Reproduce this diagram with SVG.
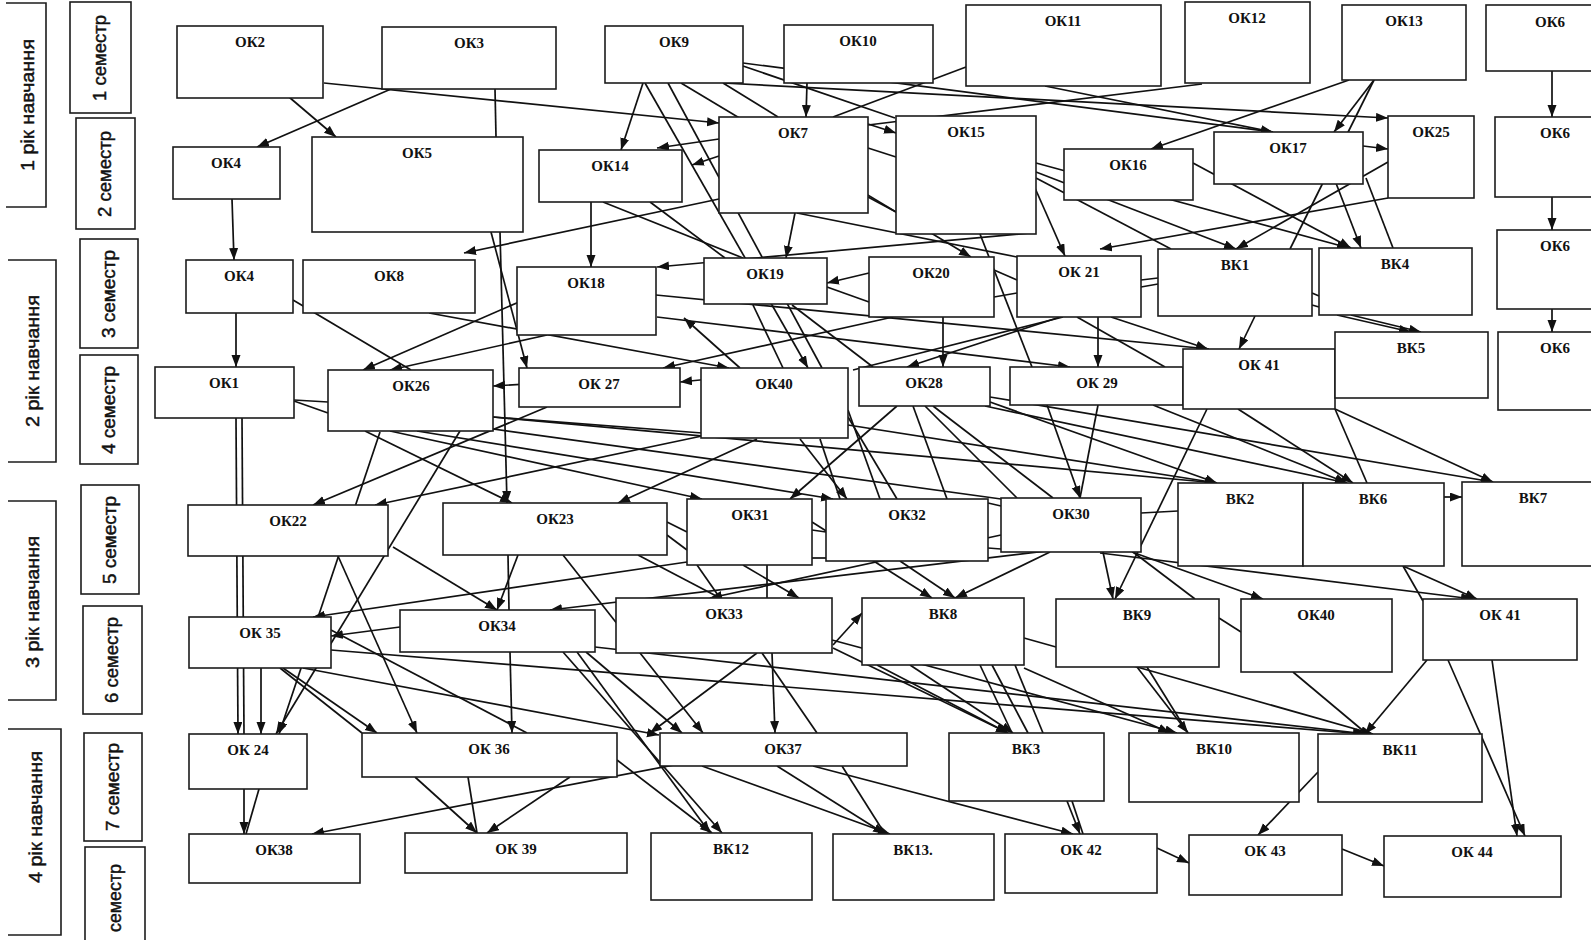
<svg xmlns="http://www.w3.org/2000/svg" width="1591" height="940" viewBox="0 0 1591 940">
<style>
.bg{fill:#fff}
.box{fill:#fff;stroke:#1c1c1c;stroke-width:1.6}
.frame{fill:none;stroke:#1c1c1c;stroke-width:1.6}
.lbl{font-family:"Liberation Serif","Times New Roman",serif;font-weight:bold;font-size:15px;text-anchor:middle;fill:#111}
.side{font-family:"Liberation Sans","Arial",sans-serif;font-size:18px;text-anchor:middle;fill:#111;stroke:#111;stroke-width:0.45}
.c path{fill:none;stroke:#111;stroke-width:1.7}
.c path.a{marker-end:url(#ah)}
</style>
<defs>
<marker id="ah" markerUnits="userSpaceOnUse" markerWidth="13" markerHeight="10" refX="12" refY="4.5" orient="auto">
<path d="M0,0 L12,4.5 L0,9 Z" fill="#111"/>
</marker>
</defs>
<rect class="bg" x="0" y="0" width="1591" height="940"/>

<g id="side-labels">
<polyline class="frame" points="6,3 46,3 46,207 6,207"/>
<text class="side" font-size="19" transform="translate(34,105) rotate(-90)" textLength="132" lengthAdjust="spacingAndGlyphs">1 рік навчання</text>
<rect class="frame" x="70" y="2" width="61" height="111"/>
<text class="side" transform="translate(106,58) rotate(-90)" textLength="86" lengthAdjust="spacingAndGlyphs">1 семестр</text>
<rect class="frame" x="76" y="118" width="59" height="111"/>
<text class="side" transform="translate(111,174) rotate(-90)" textLength="86" lengthAdjust="spacingAndGlyphs">2 семестр</text>
<polyline class="frame" points="8,260 56,260 56,462 8,462"/>
<text class="side" font-size="19" transform="translate(39,361) rotate(-90)" textLength="132" lengthAdjust="spacingAndGlyphs">2  рік навчання</text>
<rect class="frame" x="80" y="239" width="58" height="109"/>
<text class="side" transform="translate(115,294) rotate(-90)" textLength="88" lengthAdjust="spacingAndGlyphs">3 семестр</text>
<rect class="frame" x="80" y="355" width="58" height="109"/>
<text class="side" transform="translate(115,410) rotate(-90)" textLength="88" lengthAdjust="spacingAndGlyphs">4 семестр</text>
<polyline class="frame" points="8,501 56,501 56,700 8,700"/>
<text class="side" font-size="19" transform="translate(39,602) rotate(-90)" textLength="132" lengthAdjust="spacingAndGlyphs">3  рік навчання</text>
<rect class="frame" x="81" y="485" width="58" height="109"/>
<text class="side" transform="translate(116,540) rotate(-90)" textLength="88" lengthAdjust="spacingAndGlyphs">5 семестр</text>
<rect class="frame" x="83" y="606" width="59" height="108"/>
<text class="side" transform="translate(118,660) rotate(-90)" textLength="86" lengthAdjust="spacingAndGlyphs">6 семестр</text>
<polyline class="frame" points="8,729 61,729 61,935 8,935"/>
<text class="side" font-size="19" transform="translate(42,817) rotate(-90)" textLength="132" lengthAdjust="spacingAndGlyphs">4  рік навчання</text>
<rect class="frame" x="84" y="733" width="58" height="108"/>
<text class="side" transform="translate(119,787) rotate(-90)" textLength="88" lengthAdjust="spacingAndGlyphs">7 семестр</text>
<rect class="frame" x="85" y="847" width="60" height="110"/>
<text class="side" transform="translate(121,898) rotate(-90)" textLength="68" lengthAdjust="spacingAndGlyphs">семестр</text>
</g>

<g id="connectors" class="c">
<path class="a" d="M289,97 L336,137"/>
<path class="a" d="M391,89 L257,147"/>
<path class="a" d="M324,83 L719,123"/>
<path d="M495,89 L496,137"/>
<path class="a" d="M232,199 L234,260"/>
<path class="a" d="M236,313 L236,367"/>
<path class="a" d="M643,83 L621,150"/>
<path class="a" d="M645,83 L808,368"/>
<path d="M668,83 L822,368"/>
<path class="a" d="M681,83 L971,257"/>
<path d="M743,66 L895,118"/>
<path class="a" d="M868,124 L896,133"/>
<path class="a" d="M743,63 L1273,132"/>
<path class="a" d="M723,83 L1388,118"/>
<path class="a" d="M807,83 L806,117"/>
<path d="M966,67 L833,117"/>
<path d="M1202,84 L868,125"/>
<path class="a" d="M1045,86 L1273,132"/>
<path class="a" d="M1349,80 L1151,149"/>
<path class="a" d="M1374,80 L1334,132"/>
<path d="M1374,80 L1290,249"/>
<path class="a" d="M1363,146 L1388,149"/>
<path class="a" d="M1552,71 L1552,117"/>
<path class="a" d="M1552,197 L1552,230"/>
<path class="a" d="M1552,309 L1552,332"/>
<path class="a" d="M719,139 L657,148"/>
<path class="a" d="M719,156 L692,165"/>
<path class="a" d="M591,202 L591,267"/>
<path class="a" d="M719,199 L464,253"/>
<path class="a" d="M795,213 L786,258"/>
<path class="a" d="M1030,233 L657,267"/>
<path class="a" d="M869,273 L827,283"/>
<path d="M603,202 L743,258"/>
<path d="M650,202 L725,258"/>
<path d="M723,83 L778,117"/>
<path d="M868,148 L896,157"/>
<path d="M868,197 L896,212"/>
<path d="M797,213 L1017,257"/>
<path d="M980,234 L1032,367"/>
<path class="a" d="M1035,188 L1065,256"/>
<path class="a" d="M1388,198 L1100,249"/>
<path class="a" d="M1036,172 L1236,249"/>
<path d="M1036,178 L1171,249"/>
<path class="a" d="M1036,163 L1349,248"/>
<path class="a" d="M1193,163 L1351,248"/>
<path class="a" d="M1388,162 L1236,249"/>
<path class="a" d="M1334,178 L1361,248"/>
<path d="M1366,178 L1393,248"/>
<path d="M1141,280 L1158,278"/>
<path d="M1141,287 L1158,284"/>
<path d="M1312,293 L1319,296"/>
<path d="M1312,305 L1319,307"/>
<path class="a" d="M1255,316 L1239,349"/>
<path class="a" d="M1337,315 L1411,332"/>
<path class="a" d="M1351,315 L1421,332"/>
<path class="a" d="M1098,317 L1098,367"/>
<path class="a" d="M1111,317 L1208,349"/>
<path d="M1077,317 L1165,367"/>
<path class="a" d="M943,317 L943,367"/>
<path class="a" d="M1060,317 L907,367"/>
<path d="M994,270 L1017,280"/>
<path d="M994,297 L1017,293"/>
<path d="M827,287 L869,302"/>
<path d="M753,305 L783,368"/>
<path d="M792,305 L873,367"/>
<path class="a" d="M429,313 L729,368"/>
<path d="M293,300 L411,370"/>
<path class="a" d="M519,302 L363,370"/>
<path class="a" d="M547,335 L390,370"/>
<path class="a" d="M491,232 L527,368"/>
<path class="a" d="M500,232 L507,503"/>
<path class="a" d="M656,295 L1209,349"/>
<path class="a" d="M657,317 L1070,367"/>
<path class="a" d="M740,368 L684,318"/>
<path class="a" d="M893,317 L663,368"/>
<path class="a" d="M720,378 L680,382"/>
<path class="a" d="M560,382 L493,386"/>
<path d="M1063,317 L853,370"/>
<path class="a" d="M236,418 L238,734"/>
<path d="M242,418 L244,734"/>
<path d="M294,400 L328,402"/>
<path d="M294,401 L328,413"/>
<path class="a" d="M365,431 L512,503"/>
<path class="a" d="M380,432 L279,734"/>
<path class="a" d="M460,431 L276,734"/>
<path class="a" d="M390,431 L702,499"/>
<path class="a" d="M417,431 L833,499"/>
<path d="M493,417 L702,433"/>
<path class="a" d="M493,417 L1217,483"/>
<path d="M486,428 L1001,499"/>
<path class="a" d="M547,407 L313,505"/>
<path class="a" d="M702,436 L375,505"/>
<path class="a" d="M757,439 L618,503"/>
<path class="a" d="M800,439 L847,499"/>
<path d="M820,439 L840,499"/>
<path class="a" d="M897,406 L790,499"/>
<path d="M913,406 L947,499"/>
<path d="M925,406 L1017,498"/>
<path d="M933,406 L1053,498"/>
<path d="M848,410 L880,499"/>
<path d="M848,417 L897,499"/>
<path class="a" d="M990,402 L1217,483"/>
<path class="a" d="M985,406 L1347,483"/>
<path class="a" d="M990,397 L1493,482"/>
<path class="a" d="M1047,405 L1080,498"/>
<path d="M1098,405 L1080,498"/>
<path class="a" d="M1207,409 L1115,599"/>
<path class="a" d="M1238,409 L1353,483"/>
<path d="M1335,409 L1367,483"/>
<path class="a" d="M1335,409 L1493,482"/>
<path class="a" d="M1444,497 L1462,497"/>
<path d="M1141,513 L1178,511"/>
<path class="a" d="M1153,405 L1347,483"/>
<path class="a" d="M848,425 L1217,483"/>
<path class="a" d="M338,556 L417,733"/>
<path class="a" d="M393,547 L497,610"/>
<path class="a" d="M518,555 L497,610"/>
<path d="M508,555 L509,610"/>
<path class="a" d="M563,555 L703,733"/>
<path d="M638,555 L720,598"/>
<path d="M667,522 L687,532"/>
<path d="M667,535 L687,550"/>
<path d="M697,565 L720,598"/>
<path class="a" d="M743,565 L799,598"/>
<path d="M767,565 L767,598"/>
<path class="a" d="M1088,546 L550,610"/>
<path class="a" d="M1001,535 L710,598"/>
<path class="a" d="M687,562 L313,617"/>
<path class="a" d="M812,522 L932,598"/>
<path class="a" d="M900,561 L955,598"/>
<path class="a" d="M1050,552 L955,598"/>
<path d="M812,530 L826,532"/>
<path d="M812,558 L826,558"/>
<path d="M988,503 L1001,506"/>
<path d="M988,548 L1001,549"/>
<path class="a" d="M1103,552 L1113,599"/>
<path d="M1133,552 L1195,599"/>
<path class="a" d="M1132,552 L1263,599"/>
<path class="a" d="M1100,553 L1473,599"/>
<path class="a" d="M1403,566 L1477,599"/>
<path d="M1403,566 L1423,601"/>
<path d="M1219,618 L1241,632"/>
<path class="a" d="M833,645 L862,613"/>
<path class="a" d="M400,627 L331,636"/>
<path class="a" d="M261,668 L261,734"/>
<path class="a" d="M283,668 L377,733"/>
<path d="M280,668 L362,733"/>
<path d="M331,630 L527,733"/>
<path class="a" d="M303,668 L659,735"/>
<path class="a" d="M331,650 L1365,734"/>
<path class="a" d="M510,652 L512,733"/>
<path class="a" d="M586,652 L682,733"/>
<path class="a" d="M595,647 L1367,734"/>
<path class="a" d="M772,653 L775,733"/>
<path d="M762,653 L817,733"/>
<path class="a" d="M757,653 L650,733"/>
<path class="a" d="M833,648 L1008,733"/>
<path class="a" d="M832,640 L1177,733"/>
<path class="a" d="M877,665 L1008,733"/>
<path class="a" d="M910,665 L1013,733"/>
<path d="M980,665 L1012,733"/>
<path d="M992,665 L1028,733"/>
<path d="M1015,665 L1043,733"/>
<path class="a" d="M1024,668 L1170,733"/>
<path d="M1024,638 L1056,647"/>
<path class="a" d="M1137,667 L1188,733"/>
<path d="M1147,667 L1188,733"/>
<path class="a" d="M1130,665 L1373,734"/>
<path d="M1293,672 L1367,734"/>
<path class="a" d="M1427,660 L1365,734"/>
<path class="a" d="M1448,660 L1525,836"/>
<path class="a" d="M1492,660 L1517,836"/>
<path class="a" d="M244,789 L244,834"/>
<path d="M259,789 L246,834"/>
<path class="a" d="M415,777 L477,833"/>
<path d="M468,777 L477,833"/>
<path class="a" d="M570,777 L487,833"/>
<path class="a" d="M700,760 L312,834"/>
<path class="a" d="M563,652 L722,833"/>
<path class="a" d="M577,652 L710,833"/>
<path class="a" d="M617,760 L712,833"/>
<path class="a" d="M777,766 L885,834"/>
<path d="M842,766 L885,834"/>
<path class="a" d="M702,766 L890,834"/>
<path class="a" d="M813,766 L1073,834"/>
<path class="a" d="M1067,801 L1080,834"/>
<path d="M1072,801 L1083,834"/>
<path class="a" d="M1318,772 L1258,835"/>
<path class="a" d="M1157,848 L1189,863"/>
<path class="a" d="M1342,849 L1384,866"/>
</g>

<g id="ok2"><rect class="box" x="177" y="26" width="146" height="72"/><text class="lbl" x="250" y="47">ОК2</text></g>
<g id="ok3"><rect class="box" x="382" y="27" width="174" height="62"/><text class="lbl" x="469" y="48">ОК3</text></g>
<g id="ok9"><rect class="box" x="605" y="26" width="138" height="57"/><text class="lbl" x="674" y="47">ОК9</text></g>
<g id="ok10"><rect class="box" x="784" y="25" width="149" height="58"/><text class="lbl" x="858" y="46">ОК10</text></g>
<g id="ok11"><rect class="box" x="966" y="5" width="195" height="81"/><text class="lbl" x="1063" y="26">ОК11</text></g>
<g id="ok12"><rect class="box" x="1185" y="2" width="125" height="81"/><text class="lbl" x="1247" y="23">ОК12</text></g>
<g id="ok13"><rect class="box" x="1342" y="5" width="124" height="75"/><text class="lbl" x="1404" y="26">ОК13</text></g>
<g id="ok6-s1"><rect class="box" x="1486" y="5" width="130" height="66"/><text class="lbl" x="1550" y="27">ОК6</text></g>

<g id="ok4-s2"><rect class="box" x="173" y="147" width="107" height="52"/><text class="lbl" x="226" y="168">ОК4</text></g>
<g id="ok5"><rect class="box" x="312" y="137" width="211" height="95"/><text class="lbl" x="417" y="158">ОК5</text></g>
<g id="ok14"><rect class="box" x="539" y="150" width="143" height="52"/><text class="lbl" x="610" y="171">ОК14</text></g>
<g id="ok7"><rect class="box" x="719" y="117" width="149" height="96"/><text class="lbl" x="793" y="138">ОК7</text></g>
<g id="ok15"><rect class="box" x="896" y="116" width="140" height="118"/><text class="lbl" x="966" y="137">ОК15</text></g>
<g id="ok16"><rect class="box" x="1064" y="149" width="129" height="51"/><text class="lbl" x="1128" y="170">ОК16</text></g>
<g id="ok17"><rect class="box" x="1214" y="132" width="149" height="52"/><text class="lbl" x="1288" y="153">ОК17</text></g>
<g id="ok25"><rect class="box" x="1388" y="116" width="86" height="82"/><text class="lbl" x="1431" y="137">ОК25</text></g>
<g id="ok6-s2"><rect class="box" x="1495" y="117" width="120" height="80"/><text class="lbl" x="1555" y="138">ОК6</text></g>

<g id="ok4-s3"><rect class="box" x="186" y="260" width="107" height="53"/><text class="lbl" x="239" y="281">ОК4</text></g>
<g id="ok8"><rect class="box" x="303" y="260" width="172" height="53"/><text class="lbl" x="389" y="281">ОК8</text></g>
<g id="ok18"><rect class="box" x="517" y="267" width="139" height="68"/><text class="lbl" x="586" y="288">ОК18</text></g>
<g id="ok19"><rect class="box" x="704" y="258" width="123" height="46"/><text class="lbl" x="765" y="279">ОК19</text></g>
<g id="ok20"><rect class="box" x="869" y="257" width="125" height="60"/><text class="lbl" x="931" y="278">ОК20</text></g>
<g id="ok21"><rect class="box" x="1017" y="256" width="124" height="61"/><text class="lbl" x="1079" y="277">ОК 21</text></g>
<g id="bk1"><rect class="box" x="1158" y="249" width="154" height="67"/><text class="lbl" x="1235" y="270">ВК1</text></g>
<g id="bk4"><rect class="box" x="1319" y="248" width="153" height="67"/><text class="lbl" x="1395" y="269">ВК4</text></g>
<g id="ok6-s3"><rect class="box" x="1497" y="230" width="120" height="79"/><text class="lbl" x="1555" y="251">ОК6</text></g>

<g id="ok1"><rect class="box" x="155" y="367" width="139" height="51"/><text class="lbl" x="224" y="388">ОК1</text></g>
<g id="ok26"><rect class="box" x="328" y="370" width="165" height="61"/><text class="lbl" x="411" y="391">ОК26</text></g>
<g id="ok27"><rect class="box" x="519" y="368" width="161" height="39"/><text class="lbl" x="599" y="389">ОК 27</text></g>
<g id="ok40-s4"><rect class="box" x="701" y="368" width="147" height="70"/><text class="lbl" x="774" y="389">ОК40</text></g>
<g id="ok28"><rect class="box" x="859" y="367" width="131" height="39"/><text class="lbl" x="924" y="388">ОК28</text></g>
<g id="ok29"><rect class="box" x="1010" y="367" width="173" height="38"/><text class="lbl" x="1097" y="388">ОК 29</text></g>
<g id="ok41-s4"><rect class="box" x="1183" y="349" width="152" height="60"/><text class="lbl" x="1259" y="370">ОК 41</text></g>
<g id="bk5"><rect class="box" x="1335" y="332" width="153" height="66"/><text class="lbl" x="1411" y="353">ВК5</text></g>
<g id="ok6-s4"><rect class="box" x="1498" y="332" width="120" height="78"/><text class="lbl" x="1555" y="353">ОК6</text></g>

<g id="ok22"><rect class="box" x="188" y="505" width="200" height="51"/><text class="lbl" x="288" y="526">ОК22</text></g>
<g id="ok23"><rect class="box" x="443" y="503" width="224" height="52"/><text class="lbl" x="555" y="524">ОК23</text></g>
<g id="ok31"><rect class="box" x="687" y="499" width="125" height="66"/><text class="lbl" x="750" y="520">ОК31</text></g>
<g id="ok32"><rect class="box" x="826" y="499" width="162" height="62"/><text class="lbl" x="907" y="520">ОК32</text></g>
<g id="ok30"><rect class="box" x="1001" y="498" width="140" height="54"/><text class="lbl" x="1071" y="519">ОК30</text></g>
<g id="bk2"><rect class="box" x="1178" y="483" width="125" height="83"/><text class="lbl" x="1240" y="504">ВК2</text></g>
<g id="bk6"><rect class="box" x="1303" y="483" width="141" height="83"/><text class="lbl" x="1373" y="504">ВК6</text></g>
<g id="bk7"><rect class="box" x="1462" y="482" width="150" height="84"/><text class="lbl" x="1533" y="503">ВК7</text></g>

<g id="ok35"><rect class="box" x="189" y="617" width="142" height="51"/><text class="lbl" x="260" y="638">ОК 35</text></g>
<g id="ok34"><rect class="box" x="400" y="610" width="195" height="42"/><text class="lbl" x="497" y="631">ОК34</text></g>
<g id="ok33"><rect class="box" x="616" y="598" width="216" height="55"/><text class="lbl" x="724" y="619">ОК33</text></g>
<g id="bk8"><rect class="box" x="862" y="598" width="162" height="67"/><text class="lbl" x="943" y="619">ВК8</text></g>
<g id="bk9"><rect class="box" x="1056" y="599" width="163" height="68"/><text class="lbl" x="1137" y="620">ВК9</text></g>
<g id="ok40-s6"><rect class="box" x="1241" y="599" width="151" height="73"/><text class="lbl" x="1316" y="620">ОК40</text></g>
<g id="ok41-s6"><rect class="box" x="1423" y="599" width="154" height="61"/><text class="lbl" x="1500" y="620">ОК 41</text></g>

<g id="ok24"><rect class="box" x="189" y="734" width="118" height="55"/><text class="lbl" x="248" y="755">ОК 24</text></g>
<g id="ok36"><rect class="box" x="362" y="733" width="255" height="44"/><text class="lbl" x="489" y="754">ОК 36</text></g>
<g id="ok37"><rect class="box" x="660" y="733" width="247" height="33"/><text class="lbl" x="783" y="754">ОК37</text></g>
<g id="bk3"><rect class="box" x="949" y="733" width="155" height="68"/><text class="lbl" x="1026" y="754">ВК3</text></g>
<g id="bk10"><rect class="box" x="1129" y="733" width="170" height="69"/><text class="lbl" x="1214" y="754">ВК10</text></g>
<g id="bk11"><rect class="box" x="1318" y="734" width="164" height="68"/><text class="lbl" x="1400" y="755">ВК11</text></g>

<g id="ok38"><rect class="box" x="189" y="834" width="171" height="49"/><text class="lbl" x="274" y="855">ОК38</text></g>
<g id="ok39"><rect class="box" x="405" y="833" width="222" height="40"/><text class="lbl" x="516" y="854">ОК 39</text></g>
<g id="bk12"><rect class="box" x="651" y="833" width="161" height="67"/><text class="lbl" x="731" y="854">ВК12</text></g>
<g id="bk13"><rect class="box" x="833" y="834" width="161" height="66"/><text class="lbl" x="913" y="855">ВК13.</text></g>
<g id="ok42"><rect class="box" x="1005" y="834" width="152" height="59"/><text class="lbl" x="1081" y="855">ОК 42</text></g>
<g id="ok43"><rect class="box" x="1189" y="835" width="153" height="60"/><text class="lbl" x="1265" y="856">ОК 43</text></g>
<g id="ok44"><rect class="box" x="1384" y="836" width="177" height="61"/><text class="lbl" x="1472" y="857">ОК 44</text></g>
</svg>
